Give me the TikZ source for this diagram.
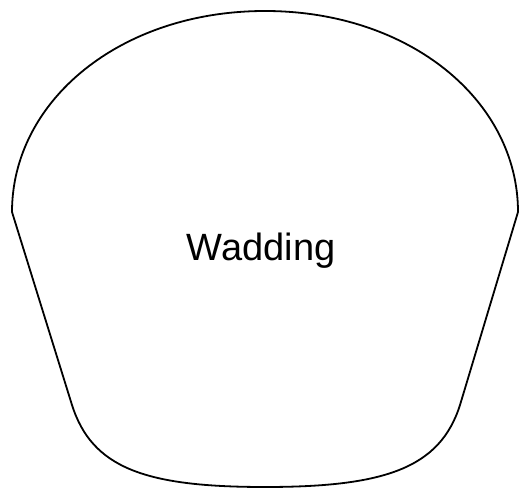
\documentclass[tikz,border=0pt]{standalone}
\usepackage{fontspec}
\setmainfont{Liberation Sans}
\usepackage{tikz}
\usetikzlibrary{positioning}

\begin{document}
\begin{tikzpicture}[x=1pt, y=-1pt, outline/.style={draw=black, line width=1.8pt, line join=round}]
  \useasboundingbox (0,0) rectangle (519,489);

  % wadding outline
  \draw[outline] (12,212) .. controls (12,101) and (120,11) .. (265,11)
    .. controls (410,11) and (518,101) .. (518,212)
    -- (460,405) .. controls (440,468) and (385,487) .. (265,487)
    .. controls (145,487) and (92,468) .. (72,405) -- cycle;

  \node[font=\fontsize{38}{40}\selectfont] (label) at (261,251) {Wadding};
\end{tikzpicture}
\end{document}
